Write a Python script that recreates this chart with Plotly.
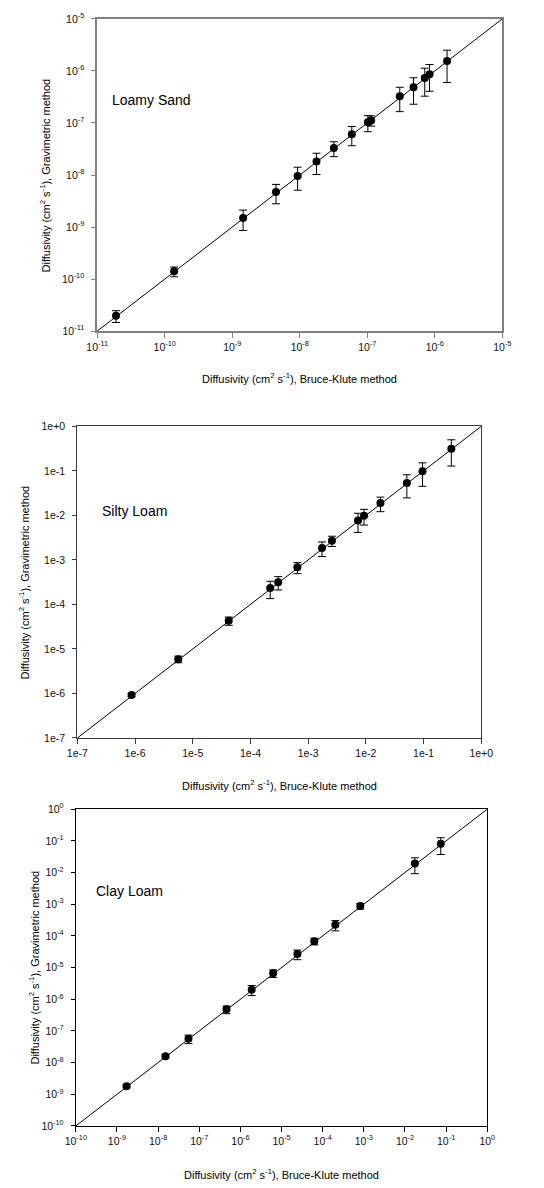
import plotly.graph_objects as go

# ---------------- data ----------------
# Panel 1: Loamy Sand
ls_bk = [1.9e-11, 1.38e-10, 1.45e-9, 4.45e-9, 9.3e-9, 1.77e-8, 3.2e-8, 5.9e-8,
         1.02e-7, 1.14e-7, 3.03e-7, 4.84e-7, 7.1e-7, 8.36e-7, 1.52e-6]
ls_grav = [1.97e-11, 1.41e-10, 1.49e-9, 4.7e-9, 9.6e-9, 1.82e-8, 3.3e-8, 6.1e-8,
           1.03e-7, 1.12e-7, 3.25e-7, 4.84e-7, 7.27e-7, 8.66e-7, 1.55e-6]
ls_err = [5e-12, 3e-11, 6.3e-10, 1.9e-9, 4.5e-9, 8e-9, 1.05e-8, 2.45e-8,
          3.5e-8, 2.5e-8, 1.6e-7, 2.55e-7, 4e-7, 4.6e-7, 9.5e-7]

# Panel 2: Silty Loam
sl_bk = [8.7e-7, 5.6e-6, 4.2e-5, 2.2e-4, 3.03e-4, 6.5e-4, 1.74e-3, 2.58e-3,
         7.31e-3, 9.3e-3, 1.79e-2, 5.14e-2, 9.6e-2, 0.303]
sl_grav = [9.2e-7, 5.9e-6, 4.3e-5, 2.33e-4, 3.16e-4, 6.8e-4, 1.86e-3, 2.7e-3,
           7.64e-3, 9.86e-3, 1.89e-2, 5.32e-2, 9.8e-2, 0.313]
sl_err = [8e-8, 1e-6, 9e-6, 9.8e-5, 1.05e-4, 1.9e-4, 6.7e-4, 7e-4,
          3.5e-3, 3.8e-3, 6.8e-3, 2.85e-2, 5.3e-2, 0.185]

# Panel 3: Clay Loam
cl_bk = [1.71e-9, 1.51e-8, 5.46e-8, 4.6e-7, 1.88e-6, 6.24e-6, 2.42e-5, 6.25e-5,
         2.03e-4, 8.2e-4, 1.74e-2, 7.4e-2]
cl_grav = [1.81e-9, 1.59e-8, 5.68e-8, 4.8e-7, 2.01e-6, 6.64e-6, 2.67e-5, 6.8e-5,
           2.24e-4, 8.8e-4, 1.92e-2, 8.1e-2]
cl_err = [2e-10, 2e-9, 1.7e-8, 1.3e-7, 7e-7, 1.8e-6, 9e-6, 1.6e-5,
          8e-5, 1.8e-4, 1e-2, 4.4e-2]

# tick exponents / labels
ls_exp = list(range(-11, -4))
sl_exp = list(range(-7, 1))
cl_exp = list(range(-10, 1))
ls_ticktext = ["10<sup>%d</sup>" % e for e in ls_exp]
sl_ticktext = ["1e-7", "1e-6", "1e-5", "1e-4", "1e-3", "1e-2", "1e-1", "1e+0"]
cl_ticktext = ["10<sup>%d</sup>" % e for e in cl_exp]

labels = ["Loamy Sand", "Silty Loam", "Clay Loam"]
x_title = "Diffusivity (cm<sup>2</sup> s<sup>-1</sup>), Bruce-Klute method"
y_title = "Diffusivity (cm<sup>2</sup> s<sup>-1</sup>), Gravimetric method"

W, H = 544, 1188
FONT = "Liberation Sans, Arial, sans-serif"

# panel pixel boxes: (left, right, top, bottom)
boxes = [(90, 513, 11, 327), (69.3, 491, 423.3, 738.7), (67.7, 497.3, 810.7, 1131.3)]
frame_colors = ["#808080", "#3a3a3a", "#000000"]
frame_widths = [1.6, 1.3, 1.1]
label_pos = [(103, 92.7), (92.7, 509), (86.7, 893.3)]
ytitle_x = [36, 14, 24]
xtitle_y = [374, 786, 1180]

panels = [
    (ls_bk, ls_grav, ls_err, ls_exp, ls_ticktext),
    (sl_bk, sl_grav, sl_err, sl_exp, sl_ticktext),
    (cl_bk, cl_grav, cl_err, cl_exp, cl_ticktext),
]

fig = go.Figure()
annotations = []
for i, (xb, yg, er, exps, ttext) in enumerate(panels):
    n = i + 1
    xa = "x" if n == 1 else "x%d" % n
    ya = "y" if n == 1 else "y%d" % n
    lo, hi = 10.0 ** exps[0], 10.0 ** exps[-1]
    # 1:1 line
    fig.add_trace(go.Scatter(x=[lo, hi], y=[lo, hi], mode="lines",
                             line=dict(color="black", width=1),
                             xaxis=xa, yaxis=ya, showlegend=False, hoverinfo="skip"))
    fig.add_trace(go.Scatter(x=xb, y=yg, mode="markers",
                             marker=dict(color="black", size=8),
                             error_y=dict(type="data", array=er, visible=True,
                                          color="black", thickness=1, width=4),
                             xaxis=xa, yaxis=ya, showlegend=False))
    l, r, t, b = boxes[i]
    tickvals = [10.0 ** e for e in exps]
    common = dict(type="log", showgrid=False, zeroline=False, showline=True,
                  linecolor=frame_colors[i], linewidth=frame_widths[i],
                  mirror=True, ticks="outside", tickcolor=frame_colors[i],
                  tickwidth=1, tickvals=tickvals, ticktext=ttext,
                  tickfont=dict(family=FONT, size=10.5, color="#111"))
    fig.update_layout(**{
        ("xaxis" if n == 1 else "xaxis%d" % n): dict(
            common, domain=[l / W, r / W], range=[exps[0], exps[-1]],
            anchor=ya, ticklen=5),
        ("yaxis" if n == 1 else "yaxis%d" % n): dict(
            common, domain=[1 - b / H, 1 - t / H], range=[exps[0], exps[-1]],
            anchor=xa, ticklen=4, ticklabelstandoff=5),
    })
    lx, ly = label_pos[i]
    annotations.append(dict(text=labels[i], x=lx / W, y=1 - ly / H, xref="paper", yref="paper",
                            xanchor="left", yanchor="middle", showarrow=False,
                            font=dict(family=FONT, size=14, color="black")))
    annotations.append(dict(text=x_title, x=(l + r) / 2 / W, y=1 - xtitle_y[i] / H,
                            xref="paper", yref="paper", xanchor="center", yanchor="middle",
                            showarrow=False, font=dict(family=FONT, size=11, color="black")))
    annotations.append(dict(text=y_title, x=ytitle_x[i] / W, y=1 - (t + b) / 2 / H,
                            xref="paper", yref="paper", xanchor="center", yanchor="middle",
                            textangle=-90, showarrow=False,
                            font=dict(family=FONT, size=11, color="black")))

fig.update_layout(width=W, height=H, margin=dict(l=0, r=0, t=0, b=0),
                  paper_bgcolor="white", plot_bgcolor="white",
                  annotations=annotations, showlegend=False)

fig.write_html("out.html", config={"displayModeBar": False},
               post_script="document.body.style.margin='0';document.body.style.overflow='hidden';")
